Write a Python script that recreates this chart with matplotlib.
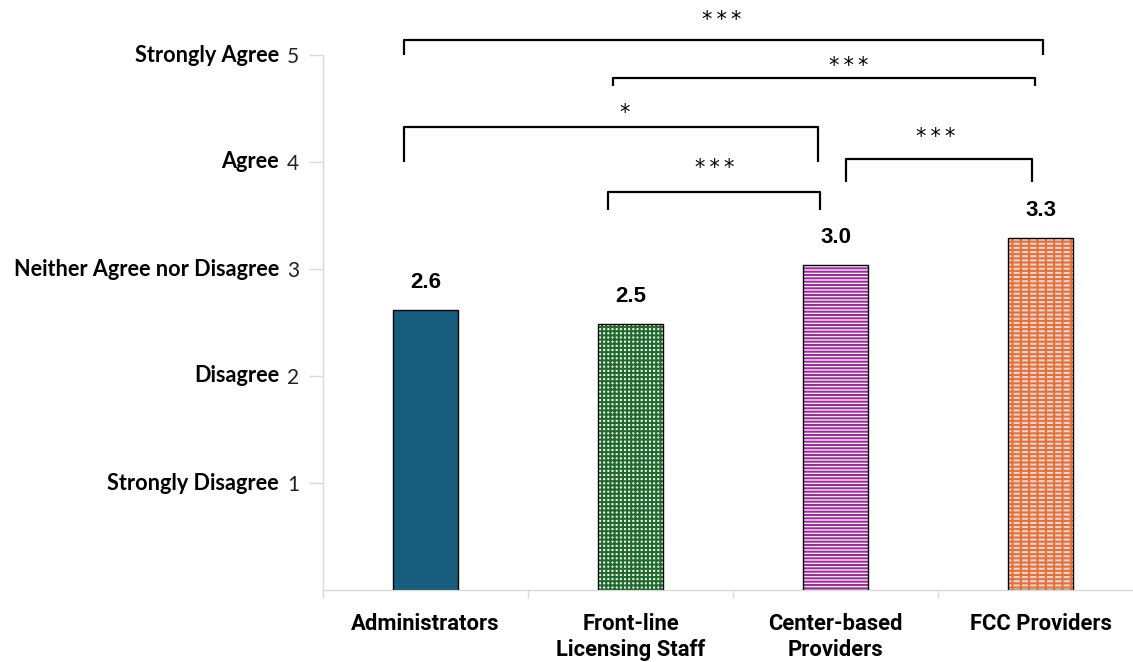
import matplotlib.pyplot as plt
from matplotlib.transforms import offset_copy

# survey means by respondent group
groups = ["Administrators", "Front-line\nLicensing Staff", "Center-based\nProviders", "FCC Providers"]
means = [2.62, 2.49, 3.04, 3.29]
scale_labels = ["Strongly Disagree", "Disagree", "Neither Agree nor Disagree", "Agree", "Strongly Agree"]
scale_ticks = [1, 2, 3, 4, 5]

# significance brackets: (left x, right x, leg bottom, top, star x, star y, stars)
brackets = [
    (-0.105, 3.012, 5.00, 5.14, 1.446, 5.33, "***"),
    (0.915, 2.973, 4.71, 4.785, 2.066, 4.90, "***"),
    (-0.105, 1.915, 4.00, 4.33, 0.973, 4.46, "*"),
    (0.890, 1.924, 3.55, 3.72, 1.412, 3.94, "***"),
    (2.051, 2.959, 3.81, 4.03, 2.490, 4.23, "***"),
]

# each bar: face colour then (hatch, hatch colour) layers drawn on top
bar_styles = [
    ("#175e7e", []),
    ("white", [("++++", "#1f6b2b")]),
    ("white", [("-----", "#a0299b")]),
    ("#ee6c2c", [("----", "#dcdce6"), ("||", "#ee6c2c")]),
]

plt.rcParams['hatch.linewidth'] = 1.5

fig = plt.figure(figsize=(11.33, 6.62), dpi=100)
ax = fig.add_axes([323 / 1133, (662 - 590) / 662, 820 / 1133, 535 / 662])

bar_w = 0.32
for i, v in enumerate(means):
    face, layers = bar_styles[i]
    ax.bar(i, v, width=bar_w, color=face, linewidth=0, zorder=2)
    for h, hc in layers:
        ax.bar(i, v, width=bar_w, fill=False, edgecolor=hc, hatch=h, linewidth=0, zorder=2)
    ax.bar(i, v, width=bar_w, fill=False, edgecolor="black", linewidth=1.0, zorder=3)
    ax.annotate(f"{v:.1f}", (i, v), xytext=(0, 12), textcoords="offset points",
                ha="center", va="bottom", fontsize=16, fontweight="bold",
                family="Liberation Sans")

for x0, x1, leg, top, sx, sy, stars in brackets:
    ax.plot([x0, x0, x1, x1], [leg, top, top, leg], color="black", lw=1.6,
            clip_on=False, solid_capstyle="butt", zorder=4)
    ax.text(sx, sy, "\u2009".join(stars), ha="center", va="center", fontsize=15,
            family="DejaVu Sans", clip_on=False)

ax.set_xlim(-0.5, 3.5)
ax.set_ylim(0, 5)

# category separators on the x axis, labels centred between them
ax.set_xticks([-0.5, 0.5, 1.5, 2.5, 3.5])
ax.set_xticklabels([])
ax.tick_params(axis="x", which="major", length=6, color="#d9d9d9", width=1)
ax.set_xticks(range(len(groups)), minor=True)
ax.set_xticklabels(groups, minor=True, fontsize=15.8, fontweight="bold",
                   family="Roboto", linespacing=1.25)
ax.tick_params(axis="x", which="minor", length=0, pad=16.5)

ax.set_yticks(scale_ticks)
ax.set_yticklabels([str(t) for t in scale_ticks], fontsize=15, family="Lato", color="#222222")
ax.tick_params(axis="y", length=10, color="#d9d9d9", width=1, pad=7)

label_tr = offset_copy(ax.get_yaxis_transform(), fig=fig, x=-44, y=0, units="dots")
for t, lab in zip(scale_ticks, scale_labels):
    ax.text(0, t, lab, transform=label_tr, ha="right", va="center",
            fontsize=15.6, fontweight="bold", family="Lato")

for side in ["top", "right"]:
    ax.spines[side].set_visible(False)
for side in ["left", "bottom"]:
    ax.spines[side].set_color("#d9d9d9")
    ax.spines[side].set_linewidth(1)

fig.savefig("out.png", dpi=100)
